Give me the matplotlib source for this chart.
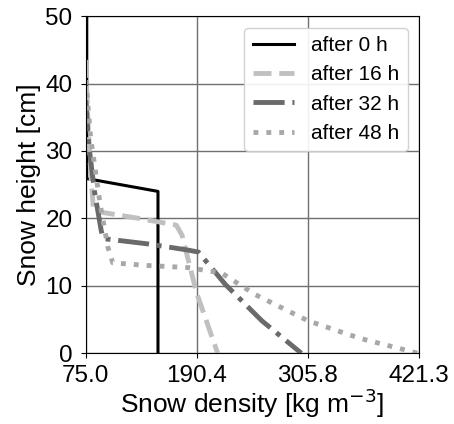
import numpy as np
import matplotlib
matplotlib.use("Agg")
import matplotlib.pyplot as plt

# ── Data ──────────────────────────────────────────────────────────────────────
x_ticks = [75.0, 190.4, 305.8, 421.3]
y_ticks = [0, 10, 20, 30, 40, 50]

rho_0h = [76, 76, 150, 150]
h_0h = [50, 25.9, 24.0, 0]

rho_16h = [75, 77, 80, 83, 130, 169, 175, 190, 212]
h_16h = [43.5, 35, 27, 21.1, 20.0, 19.0, 17.5, 9, 0]

rho_32h = [75, 78, 84, 91, 93, 140, 181, 192, 220, 258, 299]
h_32h = [37.5, 31, 24, 18.2, 17.0, 16.2, 15.3, 15.0, 10.2, 4.8, 0]

rho_48h = [75, 80, 90, 98, 103, 140, 181, 216, 251, 306, 360, 420]
h_48h = [40.5, 32, 22, 15.7, 13.4, 13.0, 12.7, 11.9, 8.7, 4.8, 2.2, 0]

labels = ["after 0 h", "after 16 h", "after 32 h", "after 48 h"]

# ── Figure ────────────────────────────────────────────────────────────────────
plt.rcParams["font.family"] = ["Liberation Sans", "DejaVu Sans"]

fig = plt.figure(figsize=(4.54, 4.24), dpi=100)
ax = fig.add_axes([0.189, 0.167, 0.734, 0.795])

ax.plot(rho_0h, h_0h, color="black", linewidth=2.2, linestyle="-", label=labels[0])
ax.plot(rho_16h, h_16h, color="#c0c0c0", linewidth=3.5, linestyle="--", label=labels[1])
ax.plot(rho_32h, h_32h, color="#6a6a6a", linewidth=3.5, linestyle="-.", label=labels[2])
ax.plot(rho_48h, h_48h, color="#a8a8a8", linewidth=3.5, linestyle=":", label=labels[3])

ax.set_xlim(x_ticks[0], x_ticks[-1])
ax.set_ylim(0, 50)
ax.set_xticks(x_ticks)
ax.set_xticklabels([f"{v:.1f}" for v in x_ticks])
ax.set_yticks(y_ticks)
ax.tick_params(labelsize=17.5, length=3.5)
ax.tick_params(axis="y", pad=6)
ax.tick_params(axis="x", pad=5)
ax.grid(True, color="#707070", linewidth=1.0)
ax.set_axisbelow(True)

ax.set_xlabel("Snow density [kg m$^{-3}$]", fontsize=19, labelpad=0)
ax.set_ylabel("Snow height [cm]", fontsize=19, labelpad=3)

ax.legend(loc="upper right", fontsize=15, handlelength=2.0, framealpha=0.9,
          borderaxespad=0.55)

fig.savefig("out.png", dpi=100)
